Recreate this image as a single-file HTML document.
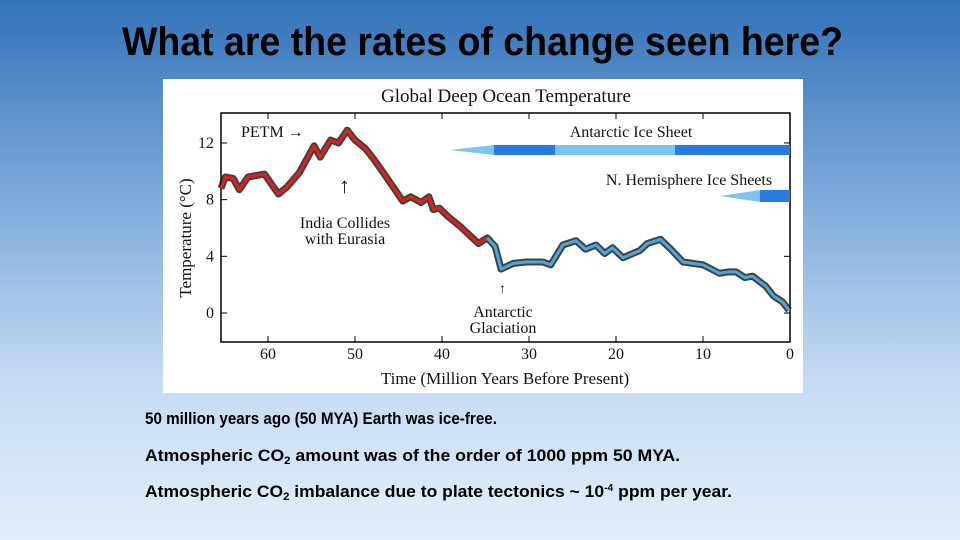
<!DOCTYPE html>
<html><head><meta charset="utf-8">
<style>html,body{margin:0;padding:0;width:960px;height:540px;overflow:hidden}</style>
</head><body>
<svg id="root" width="960" height="540" viewBox="0 0 960 540" xmlns="http://www.w3.org/2000/svg" font-family="'Liberation Serif', serif">
<defs>
<linearGradient id="bg" x1="0" y1="0" x2="0" y2="1">
<stop offset="0" stop-color="#3272b8"/><stop offset="0.35" stop-color="#7aa8da"/><stop offset="0.7" stop-color="#c4daf2"/><stop offset="1" stop-color="#e4eefa"/>
</linearGradient>
</defs>
<rect x="0" y="0" width="960" height="540" fill="url(#bg)"/>
<text x="122" y="55" font-family="'Liberation Sans Narrow','Liberation Sans',sans-serif" font-weight="bold" font-size="40" textLength="721" lengthAdjust="spacingAndGlyphs" fill="#000">What are the rates of change seen here?</text>
<rect x="163" y="79" width="640" height="314" fill="#fff"/>
<text x="506" y="102" text-anchor="middle" font-size="19" fill="#111">Global Deep Ocean Temperature</text>
<g id="plot"></g>
<text x="505" y="384" text-anchor="middle" font-size="17" fill="#111">Time (Million Years Before Present)</text>
<text transform="translate(191,238) rotate(-90)" text-anchor="middle" font-size="17" fill="#111">Temperature (°C)</text>
<g font-size="16" fill="#111">
<text x="241" y="137">PETM →</text>
<text x="339" y="193" font-size="22">↑</text>
<text x="345" y="228" text-anchor="middle">India Collides</text>
<text x="345" y="244" text-anchor="middle">with Eurasia</text>
<text x="499" y="293" font-size="14">↑</text>
<text x="503" y="317" text-anchor="middle">Antarctic</text>
<text x="503" y="333" text-anchor="middle">Glaciation</text>
<text x="631" y="137" text-anchor="middle">Antarctic Ice Sheet</text>
<text x="689" y="185" text-anchor="middle">N. Hemisphere Ice Sheets</text>
</g>
<g>
<polygon points="450,150 494,145 494,155" fill="#7cc4f4"/>
<rect x="494" y="145" width="61" height="10" fill="#2a7be0"/>
<rect x="555" y="145" width="120" height="10" fill="#7cc4f4"/>
<rect x="675" y="145" width="115" height="10" fill="#2a7be0"/>
<polygon points="720,196 760,190 760,202" fill="#7cc4f4"/>
<rect x="760" y="190" width="30" height="12" fill="#2a7be0"/>
</g>
<g font-family="'Liberation Sans Narrow','Liberation Sans',sans-serif" font-weight="bold" font-size="17" fill="#000">
<text x="145" y="424" textLength="352" lengthAdjust="spacingAndGlyphs">50 million years ago (50 MYA) Earth was ice-free.</text>
<text x="145" y="461" textLength="535" lengthAdjust="spacingAndGlyphs">Atmospheric CO<tspan font-size="11" dy="3">2</tspan><tspan dy="-3"> amount was of the order of 1000 ppm 50 MYA.</tspan></text>
<text x="145" y="497" textLength="587" lengthAdjust="spacingAndGlyphs">Atmospheric CO<tspan font-size="11" dy="3">2</tspan><tspan dy="-3"> imbalance due to plate tectonics ~ 10</tspan><tspan font-size="10" dy="-6">-4</tspan><tspan dy="6"> ppm per year.</tspan></text>
</g>
</svg>
<script>
const redAge=[65.4,64.9,64,63.3,62.3,60.4,58.8,57.8,56.4,54.7,54,52.8,51.9,50.9,50,48.8,47.9,46.4,44.5,43.6,42.4,41.5,41,40.3,39.3,37.9,35.8,34.8];
const redTemp=[8.8,9.6,9.5,8.7,9.6,9.8,8.4,8.9,9.9,11.8,11,12.2,12,12.9,12.2,11.6,10.9,9.6,7.9,8.2,7.8,8.2,7.3,7.4,6.8,6.1,4.9,5.3];
const blueAge=[34.8,33.9,33.2,31.8,30.3,28.4,27.5,26.1,24.6,23.5,22.3,21.3,20.4,19.2,17.3,16.4,14.9,13.7,12.3,10,8.1,7.1,6.2,5.2,4.3,2.8,1.9,0.9,0.1];
const blueTemp=[5.3,4.7,3.1,3.5,3.6,3.6,3.4,4.8,5.1,4.5,4.8,4.2,4.6,3.9,4.4,4.9,5.2,4.5,3.6,3.4,2.8,2.9,2.9,2.5,2.6,1.9,1.2,0.8,0.2];
const xTicks=[60,50,40,30,20,10,0];
const yTicks=[0,4,8,12];
const NS='http://www.w3.org/2000/svg';
const L=221,R=790,T=113,B=342;
const xS=t=>790-t*(R-L)/65.4;
const yS=v=>313-v*14.17;
const g=document.getElementById('plot');
function mk(tag,at){const e=document.createElementNS(NS,tag);for(const k in at)e.setAttribute(k,at[k]);g.appendChild(e);return e;}
const frame=mk('rect',{x:L,y:T,width:R-L,height:B-T,fill:'none',stroke:'#000','stroke-width':1.5});


xTicks.forEach(t=>{
 const x=xS(t);
 const l=mk('line',{x1:x,y1:B,x2:x,y2:B-6,stroke:'#000'});
 
 
 const l2=mk('line',{x1:x,y1:T,x2:x,y2:T+6,stroke:'#000'});
 
 
 const tx=mk('text',{x:x,y:B+17,'text-anchor':'middle','font-size':16,fill:'#111'});
 tx.textContent=t;
 
 
});
yTicks.forEach(v=>{
 const y=yS(v);
 const l=mk('line',{x1:L,y1:y,x2:L+6,y2:y,stroke:'#000'});
 
 
 const l2=mk('line',{x1:R,y1:y,x2:R-6,y2:y,stroke:'#000'});
 
 
 const tx=mk('text',{x:L-7,y:y+5,'text-anchor':'end','font-size':16,fill:'#111'});
 tx.textContent=v;
 
 
});
function pts(a,v){return a.map((t,i)=>xS(t).toFixed(1)+','+yS(v[i]).toFixed(1)).join(' ');}
const allA=redAge.concat(blueAge), allV=redTemp.concat(blueTemp);
const sc=mk('polyline',{points:pts(allA,allV),fill:'none',stroke:'#111','stroke-width':7,'stroke-linejoin':'round',opacity:0.8});


const rl=mk('polyline',{points:pts(redAge,redTemp),fill:'none',stroke:'#e0201c','stroke-width':3,'stroke-linejoin':'round'});


const bl=mk('polyline',{points:pts(blueAge,blueTemp),fill:'none',stroke:'#4aa8e0','stroke-width':3,'stroke-linejoin':'round'});


</script>
</body></html>
